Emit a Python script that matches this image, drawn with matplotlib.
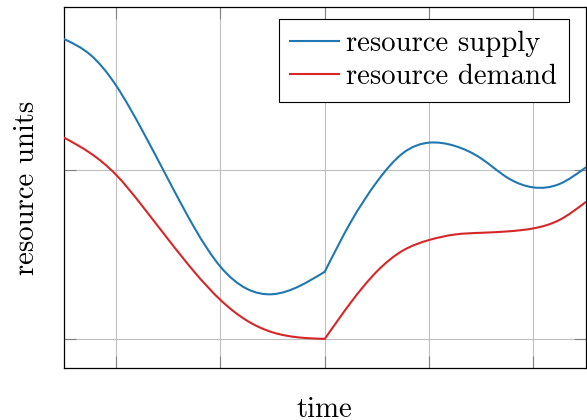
import matplotlib
matplotlib.use("Agg")
import matplotlib.pyplot as plt
from matplotlib.path import Path
from matplotlib.patches import PathPatch
import numpy as np

plt.rcParams['font.family'] = ['cmr10', 'DejaVu Serif']
plt.rcParams['axes.formatter.use_mathtext'] = True

# time positions and values
t = [0.0, 0.5, 1.0, 1.5, 2.0, 2.5, 3.0, 3.5, 4.0, 4.5, 5.0,
     5.5, 6.0, 6.5, 7.0, 7.5, 8.0, 8.5, 9.0, 9.5, 10.0]

supply = [1.777, 1.685, 1.501, 1.236, 0.944, 0.659, 0.428, 0.298, 0.265,
          0.311, 0.398, 0.693, 0.931, 1.101, 1.163, 1.143, 1.069, 0.956,
          0.898, 0.918, 1.015]

demand = [1.193, 1.102, 0.972, 0.788, 0.589, 0.397, 0.231, 0.110, 0.039,
          0.009, 0.0, 0.216, 0.400, 0.524, 0.586, 0.619, 0.629, 0.637,
          0.655, 0.705, 0.810]

# both curves have a corner at t = 5
kink = 10

xticks = [1, 3, 5, 7, 9]
yticks = [0, 1]


def smooth_path(xs, ys):
    # natural cubic spline through the points, drawn as bezier pieces
    x = np.asarray(xs, float)
    y = np.asarray(ys, float)
    n = len(x)
    h = np.diff(x)
    A = np.zeros((n, n))
    r = np.zeros(n)
    A[0, 0], A[0, 1] = 2 / h[0], 1 / h[0]
    r[0] = 3 * (y[1] - y[0]) / h[0] ** 2
    A[-1, -2], A[-1, -1] = 1 / h[-1], 2 / h[-1]
    r[-1] = 3 * (y[-1] - y[-2]) / h[-1] ** 2
    for i in range(1, n - 1):
        A[i, i - 1] = 1 / h[i - 1]
        A[i, i] = 2 / h[i - 1] + 2 / h[i]
        A[i, i + 1] = 1 / h[i]
        r[i] = 3 * ((y[i] - y[i - 1]) / h[i - 1] ** 2 + (y[i + 1] - y[i]) / h[i] ** 2)
    m = np.linalg.solve(A, r)
    verts = [(x[0], y[0])]
    codes = [Path.MOVETO]
    for i in range(n - 1):
        verts += [(x[i] + h[i] / 3, y[i] + m[i] * h[i] / 3),
                  (x[i + 1] - h[i] / 3, y[i + 1] - m[i + 1] * h[i] / 3),
                  (x[i + 1], y[i + 1])]
        codes += [Path.CURVE4] * 3
    return Path(verts, codes)


fig = plt.figure(figsize=(5.87, 4.20), dpi=100)
ax = fig.add_axes([64 / 587, 1 - 368.3 / 420, (585.5 - 64) / 587, (368.3 - 7.3) / 420])

for ys, col, lab in [(supply, '#1f77b4', 'resource supply'),
                     (demand, '#d62728', 'resource demand')]:
    for a, b in [(0, kink + 1), (kink, len(t))]:
        ax.add_patch(PathPatch(smooth_path(t[a:b], ys[a:b]), fill=False,
                               edgecolor=col, lw=1.5, zorder=3,
                               capstyle='round', joinstyle='round'))
    ax.plot([], [], color=col, lw=1.5, label=lab)

ax.set_xlim(0, 10)
ax.set_ylim(-0.174, 1.965)
ax.set_xticks(xticks)
ax.set_yticks(yticks)
ax.set_xticklabels([])
ax.set_yticklabels([])
ax.grid(True, color='#c0c0c0', lw=0.8)
ax.set_axisbelow(True)
ax.tick_params(direction='in', length=8.3, width=0.8, color='#808080',
               top=True, right=True)
for s in ax.spines.values():
    s.set_linewidth(0.9)
    s.set_color('black')

ax.set_xlabel('time', fontsize=20.7, labelpad=17)
ax.set_ylabel('resource units', fontsize=20.7, labelpad=13.5)

leg = ax.legend(loc='upper right', bbox_to_anchor=(0.968, 0.9676),
                fontsize=20.7, fancybox=False, framealpha=1,
                edgecolor='black', handlelength=1.7, handletextpad=0.25,
                borderpad=0.4, labelspacing=0.25, borderaxespad=0)
leg.get_frame().set_linewidth(0.8)

fig.savefig('out.png', dpi=100)
